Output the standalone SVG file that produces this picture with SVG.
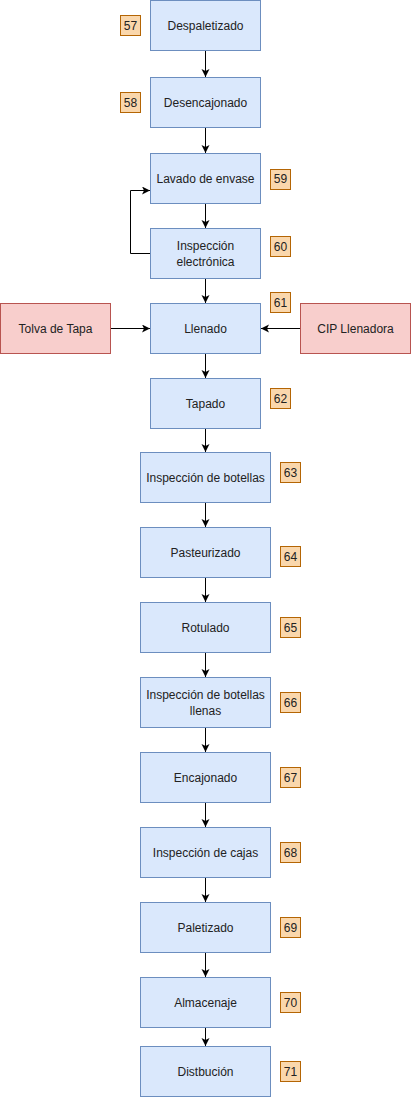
<svg xmlns="http://www.w3.org/2000/svg" width="411" height="1098" viewBox="0 0 411 1098">
<defs>
<style>
.p{fill:#dae8fc;stroke:#6c8ebf;stroke-width:1}
.r{fill:#f8cecc;stroke:#b85450;stroke-width:1}
.b{fill:#fad7ac;stroke:#b46504;stroke-width:1}
.t{font-family:"Liberation Sans",Arial,sans-serif;font-size:12px;fill:#222;text-anchor:middle;dominant-baseline:central}
.e{fill:none;stroke:#000;stroke-width:1;marker-end:url(#a)}
</style>
<marker id="a" markerUnits="userSpaceOnUse" markerWidth="10" markerHeight="10" refX="8" refY="4" orient="auto">
<path d="M0,0 L8,4 L0,8 L2,4 Z" fill="#000"/>
</marker>
</defs>
<rect width="411" height="1098" fill="#fff"/>
<g id="connectors">
<path class="e" d="M205.5,50.5 V77"/>
<path class="e" d="M205.5,127.5 V153"/>
<path class="e" d="M205.5,203.5 V228"/>
<path class="e" d="M150.5,253.5 H130.5 V190.5 H150"/>
<path class="e" d="M205.5,278.5 V303"/>
<path class="e" d="M110.5,328.5 H150"/>
<path class="e" d="M300.5,328.5 H261"/>
<path class="e" d="M205.5,353.5 V378"/>
<path class="e" d="M205.5,428.5 V452"/>
<path class="e" d="M205.5,502.5 V527"/>
<path class="e" d="M205.5,577.5 V602"/>
<path class="e" d="M205.5,652.5 V677"/>
<path class="e" d="M205.5,727.5 V752"/>
<path class="e" d="M205.5,802.5 V827"/>
<path class="e" d="M205.5,877.5 V902"/>
<path class="e" d="M205.5,952.5 V977"/>
<path class="e" d="M205.5,1027.5 V1046"/>
</g>
<g id="n57"><rect class="p" x="150.5" y="0.5" width="110" height="50"/><text class="t" x="205.5" y="25.5">Despaletizado</text></g>
<g id="b57"><rect class="b" x="120.5" y="15.5" width="20" height="20"/><text class="t" x="130.5" y="25.5">57</text></g>
<g id="n58"><rect class="p" x="150.5" y="77.5" width="110" height="50"/><text class="t" x="205.5" y="102.5">Desencajonado</text></g>
<g id="b58"><rect class="b" x="120.5" y="92.5" width="20" height="20"/><text class="t" x="130.5" y="102.5">58</text></g>
<g id="n59"><rect class="p" x="150.5" y="153.5" width="110" height="50"/><text class="t" x="205.5" y="178.5">Lavado de envase</text></g>
<g id="b59"><rect class="b" x="270.5" y="169.5" width="20" height="20"/><text class="t" x="280.5" y="179">59</text></g>
<g id="n60"><rect class="p" x="150.5" y="228.5" width="110" height="50"/><text class="t" x="205.5" y="245.5">Inspección</text><text class="t" x="205.5" y="261.5">electrónica</text></g>
<g id="b60"><rect class="b" x="270.5" y="236.5" width="20" height="20"/><text class="t" x="280.5" y="246.5">60</text></g>
<g id="n61"><rect class="p" x="150.5" y="303.5" width="110" height="50"/><text class="t" x="205.5" y="328.5">Llenado</text></g>
<g id="b61"><rect class="b" x="270.5" y="292.5" width="20" height="20"/><text class="t" x="280.5" y="302.5">61</text></g>
<g id="tolva"><rect class="r" x="0.5" y="303.5" width="110" height="50"/><text class="t" x="55.5" y="328.5">Tolva de Tapa</text></g>
<g id="cip"><rect class="r" x="300.5" y="303.5" width="110" height="50"/><text class="t" x="355.5" y="328.5">CIP Llenadora</text></g>
<g id="n62"><rect class="p" x="150.5" y="378.5" width="110" height="50"/><text class="t" x="205.5" y="403.5">Tapado</text></g>
<g id="b62"><rect class="b" x="270.5" y="388.5" width="20" height="20"/><text class="t" x="280.5" y="398.5">62</text></g>
<g id="n63"><rect class="p" x="140.5" y="452.5" width="130" height="50"/><text class="t" x="205.5" y="477.5">Inspección de botellas</text></g>
<g id="b63"><rect class="b" x="280.5" y="462.5" width="20" height="20"/><text class="t" x="290.5" y="472.5">63</text></g>
<g id="n64"><rect class="p" x="140.5" y="527.5" width="130" height="50"/><text class="t" x="205.5" y="552.5">Pasteurizado</text></g>
<g id="b64"><rect class="b" x="280.5" y="546.5" width="20" height="20"/><text class="t" x="290.5" y="556.5">64</text></g>
<g id="n65"><rect class="p" x="140.5" y="602.5" width="130" height="50"/><text class="t" x="205.5" y="627.5">Rotulado</text></g>
<g id="b65"><rect class="b" x="280.5" y="617.5" width="20" height="20"/><text class="t" x="290.5" y="627.5">65</text></g>
<g id="n66"><rect class="p" x="140.5" y="677.5" width="130" height="50"/><text class="t" x="205.5" y="694.5">Inspección de botellas</text><text class="t" x="205.5" y="710.5">llenas</text></g>
<g id="b66"><rect class="b" x="280.5" y="692.5" width="20" height="20"/><text class="t" x="290.5" y="702.5">66</text></g>
<g id="n67"><rect class="p" x="140.5" y="752.5" width="130" height="50"/><text class="t" x="205.5" y="777.5">Encajonado</text></g>
<g id="b67"><rect class="b" x="280.5" y="767.5" width="20" height="20"/><text class="t" x="290.5" y="777.5">67</text></g>
<g id="n68"><rect class="p" x="140.5" y="827.5" width="130" height="50"/><text class="t" x="205.5" y="852.5">Inspección de cajas</text></g>
<g id="b68"><rect class="b" x="280.5" y="842.5" width="20" height="20"/><text class="t" x="290.5" y="852.5">68</text></g>
<g id="n69"><rect class="p" x="140.5" y="902.5" width="130" height="50"/><text class="t" x="205.5" y="927.5">Paletizado</text></g>
<g id="b69"><rect class="b" x="280.5" y="917.5" width="20" height="20"/><text class="t" x="290.5" y="927.5">69</text></g>
<g id="n70"><rect class="p" x="140.5" y="977.5" width="130" height="50"/><text class="t" x="205.5" y="1002.5">Almacenaje</text></g>
<g id="b70"><rect class="b" x="280.5" y="992.5" width="20" height="20"/><text class="t" x="290.5" y="1002.5">70</text></g>
<g id="n71"><rect class="p" x="140.5" y="1046.5" width="130" height="50"/><text class="t" x="205.5" y="1071.5">Distbución</text></g>
<g id="b71"><rect class="b" x="280.5" y="1061.5" width="20" height="20"/><text class="t" x="290.5" y="1071.5">71</text></g>
</svg>
